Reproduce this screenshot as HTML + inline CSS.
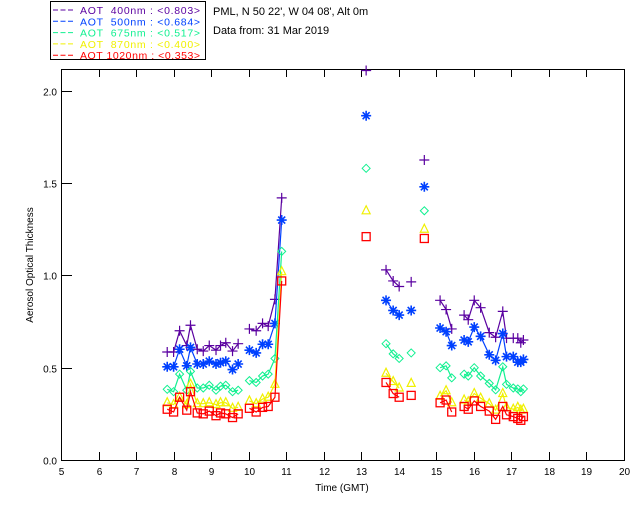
<!DOCTYPE html>
<html><head><meta charset="utf-8"><style>
body{margin:0;background:#fff;}
svg{display:block;font-family:"Liberation Sans",sans-serif;}
.lt{white-space:pre;}
</style></head><body>
<svg id="chart" width="640" height="512" viewBox="0 0 640 512" xmlns="http://www.w3.org/2000/svg">
<rect x="0" y="0" width="640" height="512" fill="#fff"/>
<g>
<rect x="50.5" y="1.5" width="155" height="58" fill="none" stroke="#000"/>
<g id="legend-items"></g>
</g>
<text x="213" y="15" font-size="11">PML, N 50 22', W 04 08', Alt 0m</text>
<text x="213" y="34" font-size="11">Data from: 31 Mar 2019</text>
<g id="axes"></g>
<g id="series"></g>
<text x="342" y="491" font-size="10" text-anchor="middle">Time (GMT)</text>
<text transform="translate(33,265) rotate(-90)" font-size="10" text-anchor="middle">Aerosol Optical Thickness</text>
</svg>
<script>
const xTicks=[5,6,7,8,9,10,11,12,13,14,15,16,17,18,19,20];
const yTicks=[0,0.5,1.0,1.5,2.0];
const seriesNames=["AOT  400nm : <0.803>","AOT  500nm : <0.684>","AOT  675nm : <0.517>","AOT  870nm : <0.400>","AOT 1020nm : <0.353>"];
const seriesColors=["#5a00a0","#0040ff","#10f090","#f0f000","#ff0000"];
const markers=["plus","star","diamond","triangle","square"];
const times=[7.83,8.00,8.16,8.35,8.45,8.63,8.79,8.95,9.13,9.25,9.39,9.57,9.72,
10.02,10.20,10.37,10.52,10.70,10.88,
13.13,13.66,13.85,14.01,14.33,14.68,
15.10,15.26,15.41,
15.74,15.85,16.01,16.18,16.41,16.58,16.77,16.87,17.05,17.17,17.25,17.32];
const aot400=[0.585,0.585,0.70,0.62,0.73,0.60,0.59,0.62,0.595,0.62,0.635,0.59,0.63,
0.71,0.70,0.74,0.725,0.87,1.42,
2.11,1.03,0.97,0.94,0.965,1.625,
0.865,0.815,0.71,
0.785,0.76,0.865,0.825,0.69,0.665,0.805,0.66,0.66,0.66,0.635,0.65];
const aot500=[0.505,0.505,0.60,0.51,0.61,0.52,0.52,0.535,0.52,0.527,0.535,0.49,0.52,
0.595,0.58,0.627,0.627,0.74,1.30,
1.865,0.865,0.81,0.785,0.81,1.48,
0.715,0.695,0.62,
0.65,0.64,0.72,0.67,0.57,0.54,0.685,0.56,0.56,0.53,0.53,0.545];
const aot675=[0.383,0.37,0.465,0.378,0.48,0.39,0.39,0.405,0.378,0.40,0.405,0.37,0.378,
0.43,0.42,0.455,0.465,0.55,1.13,
1.58,0.63,0.575,0.55,0.58,1.35,
0.50,0.51,0.445,
0.465,0.455,0.50,0.455,0.415,0.38,0.505,0.41,0.39,0.385,0.37,0.385];
const aot870=[0.31,0.30,0.34,0.30,0.41,0.305,0.305,0.31,0.30,0.31,0.31,0.28,0.285,
0.32,0.305,0.33,0.34,0.41,1.02,
1.35,0.47,0.425,0.39,0.415,1.25,
0.345,0.375,0.31,
0.325,0.315,0.36,0.335,0.305,0.27,0.36,0.285,0.275,0.285,0.27,0.275];
const aot1020=[0.275,0.26,0.34,0.27,0.37,0.255,0.25,0.265,0.24,0.255,0.25,0.23,0.25,
0.28,0.26,0.285,0.29,0.34,0.97,
1.21,0.42,0.36,0.34,0.35,1.20,
0.31,0.325,0.26,
0.29,0.275,0.32,0.29,0.265,0.22,0.29,0.245,0.235,0.225,0.215,0.235];
const allSeries=[aot400,aot500,aot675,aot870,aot1020];

const L=61,R=624,T=69,B=460,XMIN=5,XMAX=20,YMIN=0;
const xs=v=>L+(v-XMIN)/(XMAX-XMIN)*(R-L);
const ys=v=>B-(v-YMIN)*184.6;
const NS="http://www.w3.org/2000/svg";
function mk(tag,attrs,parent){const e=document.createElementNS(NS,tag);for(const k in attrs)e.setAttribute(k,attrs[k]);parent.appendChild(e);return e;}

const axes=document.getElementById('axes');
const frame=mk('rect',{x:L+.5,y:T+.5,width:R-L,height:B-T,fill:'none',stroke:'#000'},axes);


xTicks.forEach(t=>{
  const x=Math.round(xs(t))+.5;
  const a=mk('line',{x1:x,x2:x,y1:B,y2:B-8,stroke:'#000'},axes);
  
  
  const b=mk('line',{x1:x,x2:x,y1:T,y2:T+8,stroke:'#000'},axes);
  
  
  const tx=mk('text',{x:x,y:B+15,'font-size':10,'text-anchor':'middle'},axes);
  tx.textContent=t;
  
  
});
yTicks.forEach(t=>{
  const y=Math.round(ys(t))+.5;
  const a=mk('line',{x1:L,x2:L+11,y1:y,y2:y,stroke:'#000'},axes);
  
  
  const tx=mk('text',{x:L-4,y:y+4,'font-size':10,'text-anchor':'end'},axes);
  tx.textContent=t.toFixed(1);
  
  
});

function marker(type,x,y,c,g){
  let e;
  if(type==='plus') e=mk('path',{d:`M${x-5},${y}H${x+5}M${x},${y-5}V${y+5}`,stroke:c,fill:'none','stroke-width':1.2},g);
  else if(type==='star') e=mk('path',{d:`M${x-5},${y}H${x+5}M${x},${y-5}V${y+5}M${x-3.5},${y-3.5}L${x+3.5},${y+3.5}M${x-3.5},${y+3.5}L${x+3.5},${y-3.5}`,stroke:c,fill:'none','stroke-width':1.6},g);
  else if(type==='diamond') e=mk('path',{d:`M${x},${y-4}L${x+4},${y}L${x},${y+4}L${x-4},${y}Z`,stroke:c,fill:'none'},g);
  else if(type==='triangle') e=mk('path',{d:`M${x},${y-5}L${x+4},${y+3}L${x-4},${y+3}Z`,stroke:c,fill:'none','stroke-width':1.2},g);
  else e=mk('rect',{x:x-4,y:y-4,width:8,height:8,stroke:c,fill:'none','stroke-width':1.3},g);
  
  
}
const sg=document.getElementById('series');
const names=['aot-400nm','aot-500nm','aot-675nm','aot-870nm','aot-1020nm'];
allSeries.forEach((vals,si)=>{
  const g=mk('g',{},sg);
  
  
  const c=seriesColors[si];
  let seg=[];
  const segs=[];
  times.forEach((t,i)=>{
    if(i>0&&t-times[i-1]>0.25){segs.push(seg);seg=[];}
    seg.push([xs(t),Math.max(ys(vals[i]),T)]);
  });
  segs.push(seg);
  segs.forEach(s=>{if(s.length>1){
    const p=mk('polyline',{points:s.map(q=>q.join(',')).join(' '),fill:'none',stroke:c,'stroke-width':1.2},g);
    
    
  }});
  times.forEach((t,i)=>{const y=ys(vals[i]);if(y>=T-1)marker(markers[si],xs(t),y,c,g);});
});
const lg=document.getElementById('legend-items');
seriesNames.forEach((n,i)=>{
  const y=10+i*11.3;
  const ln=mk('line',{x1:53,x2:73,y1:y,y2:y,stroke:seriesColors[i],'stroke-dasharray':'5,2.5'},lg);
  
  
  const tx=mk('text',{x:80,y:y+4,'font-size':10.5,fill:seriesColors[i],'class':'lt',textLength:120,lengthAdjust:'spacing'},lg);
  tx.textContent=n;
  
  
});
</script>
</body></html>
